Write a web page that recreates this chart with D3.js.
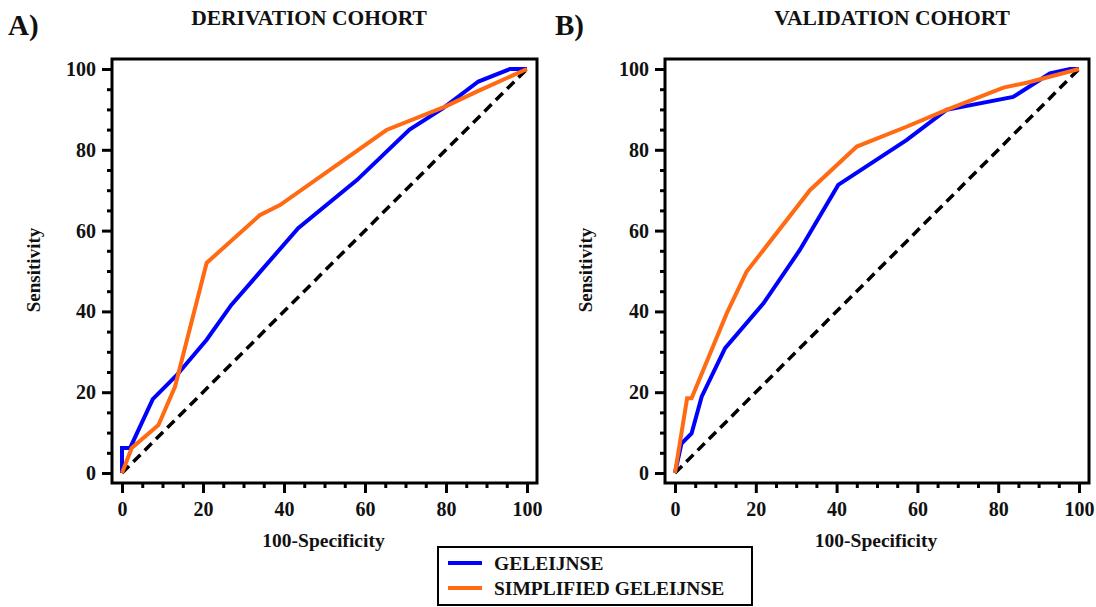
<!DOCTYPE html>
<html>
<head>
<meta charset="utf-8">
<script src="https://cdn.jsdelivr.net/npm/d3@7"></script>
<style>
  html, body { margin: 0; padding: 0; background: #fff; }
  svg { display: block; }
  text { font-family: "Liberation Serif", "Times New Roman", serif; font-weight: bold; fill: #111; }
</style>
</head>
<body>
<svg id="chart" width="1096" height="607"></svg>
<script>
// ---- data ----
const panelLetters = ["A)", "B)"];
const panelTitles = ["DERIVATION COHORT", "VALIDATION COHORT"];
const seriesNames = ["GELEIJNSE", "SIMPLIFIED GELEIJNSE"];
const tickValues = [0, 20, 40, 60, 80, 100];
const xLabel = "100-Specificity";
const yLabel = "Sensitivity";

// Derivation cohort: [100-specificity, sensitivity]
const derivGeleijnse = [[0,0],[0,6.2],[2,6.2],[7.6,18.3],[13.5,24.2],[20.9,33],[27,41.6],[43.5,60.6],[58,72.5],[71,85],[79.3,90.3],[88,96.9],[95.8,100],[100,100]];
const derivSimplified = [[0,0],[2.4,6.2],[9,11.9],[13.1,21.4],[20.9,52],[34,63.8],[39,66.3],[65.3,84.9],[79.8,90.7],[87.6,94.4],[100,100]];
// Validation cohort
const validGeleijnse = [[0,0],[1.6,7.3],[4.1,9.8],[6.6,18.9],[12.4,30.9],[21.9,42],[30.9,55.2],[40.4,71.3],[57.3,82.4],[67.2,89.9],[83.7,93.1],[92.8,98.9],[97.8,100],[100,100]];
const validSimplified = [[0,0],[3,18.5],[4.1,18.5],[12.8,39.5],[17.7,49.8],[33.4,70],[45,80.8],[57.3,85.7],[67.2,89.9],[81.3,95.4],[87.1,96.6],[100,100]];
const reference = [[0,0],[100,100]];

const panelData = [
  [derivGeleijnse, derivSimplified],
  [validGeleijnse, validSimplified]
];

// ---- layout / style ----
const colors = ["#0000ff", "#ff6a12"];
const panels = [
  { x0: 122, x1: 527, letterX: 8, titleX: 309, ylabX: 40 },
  { x0: 675, x1: 1079, letterX: 555, titleX: 892, ylabX: 592 }
];
const yTop = 69, yBot = 473, pad = 10;
const serif = '"Liberation Serif", "Times New Roman", serif';

const svg = d3.select("#chart");

panels.forEach((p, i) => {
  const x = d3.scaleLinear().domain([0, 100]).range([p.x0, p.x1]);
  const y = d3.scaleLinear().domain([0, 100]).range([yBot, yTop]);
  const g = svg.append("g");

  const left = p.x0 - pad, right = p.x1 + pad, top = yTop - pad, bottom = yBot + pad;

  const minor = d3.range(0, 101, 5).filter(v => v % 20 !== 0);
  const xAxisMinor = d3.axisBottom(x).tickValues(minor).tickSize(5).tickFormat("");
  const yAxisMinor = d3.axisLeft(y).tickValues(minor).tickSize(5).tickFormat("");
  const xAxis = d3.axisBottom(x).tickValues(tickValues).tickSize(10).tickPadding(9);
  const yAxis = d3.axisLeft(y).tickValues(tickValues).tickSize(10).tickPadding(6);

  [ [xAxisMinor, `translate(0,${bottom})`], [xAxis, `translate(0,${bottom})`],
    [yAxisMinor, `translate(${left},0)`], [yAxis, `translate(${left},0)`] ].forEach(([ax, tr]) => {
    const a = g.append("g").attr("transform", tr).call(ax);
    a.attr("font-family", null).attr("font-size", null);
    a.select(".domain").remove();
    a.selectAll(".tick line").attr("stroke", "#000").attr("stroke-width", 3);
    a.selectAll(".tick text")
      .style("font-family", serif)
      .style("font-weight", "bold").style("font-size", "20px").attr("fill", "#111");
  });

  // frame
  g.append("rect")
    .attr("x", left).attr("y", top)
    .attr("width", right - left).attr("height", bottom - top)
    .attr("fill", "none").attr("stroke", "#000").attr("stroke-width", 3);

  const line = d3.line().x(d => x(d[0])).y(d => y(d[1]));

  // reference diagonal
  g.append("path").datum(reference).attr("d", line)
    .attr("fill", "none").attr("stroke", "#000").attr("stroke-width", 3.5)
    .attr("stroke-dasharray", "10,6");

  panelData[i].forEach((s, k) => {
    g.append("path").datum(s).attr("d", line)
      .attr("fill", "none").attr("stroke", colors[k]).attr("stroke-width", 4)
      .attr("stroke-linejoin", "miter").attr("stroke-linecap", "butt");
  });

  // titles
  svg.append("text").attr("x", p.letterX).attr("y", 35)
    .style("font-size", "29px").text(panelLetters[i]);
  svg.append("text").attr("x", p.titleX).attr("y", 25).attr("text-anchor", "middle")
    .style("font-size", "21.5px").text(panelTitles[i]);

  // axis labels
  svg.append("text").attr("x", (left + right) / 2 - 1).attr("y", 547).attr("text-anchor", "middle")
    .style("font-size", "19.5px").text(xLabel);
  svg.append("text")
    .attr("transform", `translate(${p.ylabX},270) rotate(-90)`)
    .attr("text-anchor", "middle")
    .style("font-size", "19px").text(yLabel);
});

// legend
const lg = svg.append("g");
lg.append("rect").attr("x", 438).attr("y", 547).attr("width", 314).attr("height", 58)
  .attr("fill", "#fff").attr("stroke", "#000").attr("stroke-width", 2);
seriesNames.forEach((name, k) => {
  const yy = 563 + k * 25;
  lg.append("line").attr("x1", 448).attr("x2", 482).attr("y1", yy).attr("y2", yy)
    .attr("stroke", colors[k]).attr("stroke-width", 4);
  lg.append("text").attr("x", 494).attr("y", yy + 6.5)
    .style("font-size", "19.5px").text(name);
});
</script>
</body>
</html>
